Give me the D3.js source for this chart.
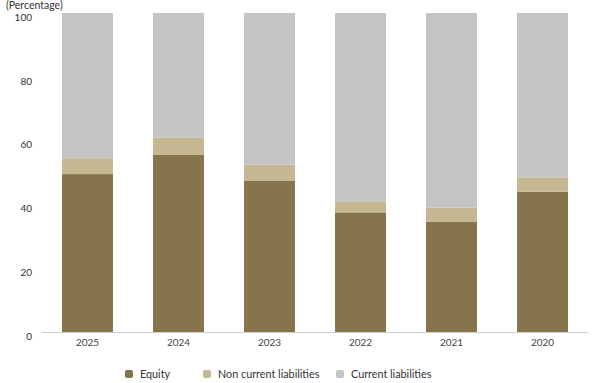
<!DOCTYPE html>
<html><head><meta charset="utf-8">
<script src="https://cdn.jsdelivr.net/npm/d3@7"></script>
<style>body{margin:0;background:#fff}svg{display:block;font-family:Lato,"Open Sans",sans-serif}</style>
</head><body><div id="chart"></div>
<script>
const years = ["2025","2024","2023","2022","2021","2020"];
const equity = [49.5, 55.5, 47.5, 37.5, 34.5, 44];
const nonCurrent = [5, 5.5, 5, 3.5, 4.5, 4.5];
const current = years.map((d,i)=>100-equity[i]-nonCurrent[i]);
const seriesNames = ["Equity","Non current liabilities","Current liabilities"];
const colors = ["#86744c","#c6b793","#c4c4c4"];
const yTicks = [0,20,40,60,80,100];
const yTitle = "(Percentage)";

const W=592,H=383;
const svg=d3.select("#chart").append("svg").attr("width",W).attr("height",H);
const x=d3.scaleBand().domain(years).range([42,588]).paddingInner(0.44).paddingOuter(0.22);
const y=d3.scaleLinear().domain([0,100]).range([332,13]);

const rows=years.map((yr,i)=>({year:yr,"Equity":equity[i],"Non current liabilities":nonCurrent[i],"Current liabilities":current[i]}));
const stack=d3.stack().keys(seriesNames)(rows);

svg.append("text").attr("x",6).attr("y",9).attr("font-size",10.5).attr("fill","#333").text(yTitle);

svg.append("g").selectAll("g").data(stack).join("g").attr("fill",(d,i)=>colors[i])
 .selectAll("rect").data(d=>d).join("rect")
 .attr("x",d=>x(d.data.year)).attr("width",x.bandwidth())
 .attr("y",d=>y(d[1])).attr("height",d=>y(d[0])-y(d[1]));

const ya=svg.append("g").attr("transform","translate(32,4)")
 .call(d3.axisLeft(y).tickValues(yTicks).tickSize(0).tickPadding(0));
ya.select(".domain").remove();
ya.selectAll("text").attr("font-size",10).attr("fill","#333").attr("font-family","Lato,sans-serif");

const xa=svg.append("g").attr("transform","translate(0,332)")
 .call(d3.axisBottom(x).tickSize(0).tickPadding(7));
xa.select(".domain").attr("stroke","#ccc").attr("d","M42,0.5H588");
xa.selectAll("text").attr("font-size",10).attr("fill","#444").attr("font-family","Lato,sans-serif");

const legX=[125,203,336];
const lg=svg.append("g").attr("transform","translate(0,374)");
seriesNames.forEach((n,i)=>{
  lg.append("rect").attr("x",legX[i]).attr("y",-4).attr("width",8).attr("height",8).attr("rx",2).attr("fill",colors[i]);
  lg.append("text").attr("x",legX[i]+15).attr("y",4).attr("font-size",10.8).attr("fill","#333").text(n);
});
</script></body></html>
